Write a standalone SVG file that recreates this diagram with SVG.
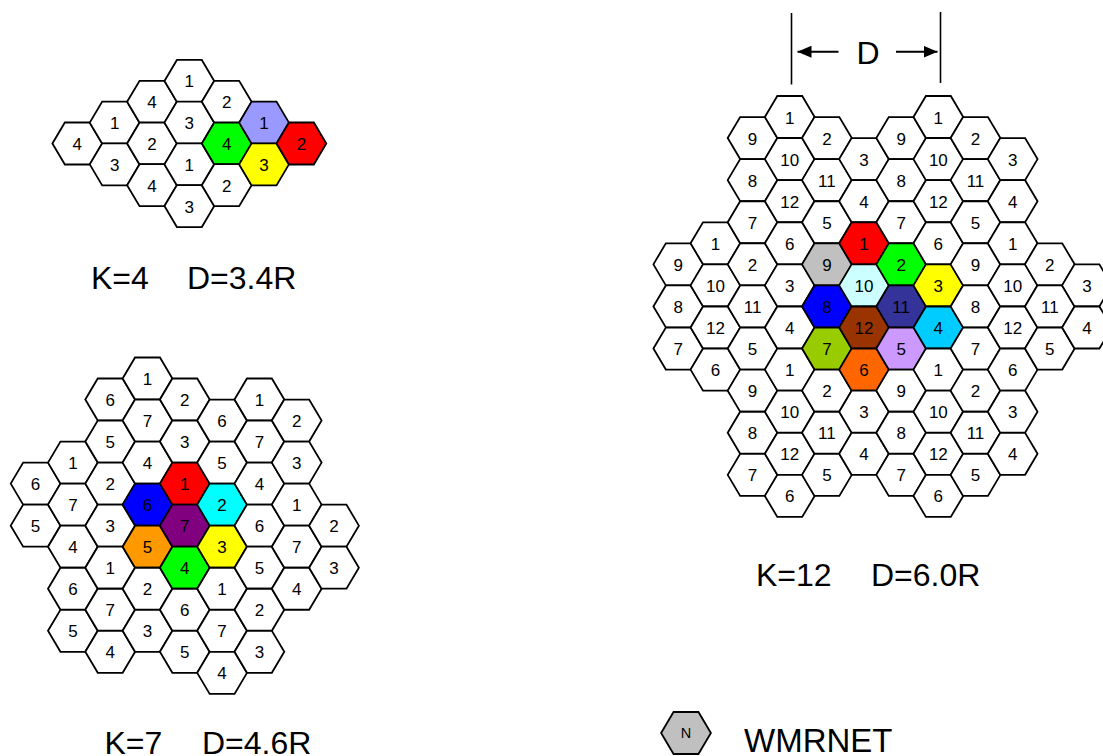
<svg xmlns="http://www.w3.org/2000/svg" xmlns:xlink="http://www.w3.org/1999/xlink" width="1103" height="756" viewBox="0 0 1103 756">
<style>
text{font-family:"Liberation Sans",Arial,sans-serif;fill:#000}
.n text{font-size:17px;text-anchor:middle}
.lbl{font-size:32px}
.r{fill:#FF0000}.g{fill:#00FF00}.y{fill:#FFFF00}.c{fill:#00FFFF}.b{fill:#0000FF}.o{fill:#FF9900}.p{fill:#800080}
.lv{fill:#9999FF}.ds{fill:#00CCFF}.l5{fill:#CC99FF}.o6{fill:#FF6600}.ol{fill:#99CC00}.gr{fill:#C0C0C0}.lc{fill:#CCFFFF}.nv{fill:#333399}.br{fill:#993300}
use{fill:#FFFFFF}
</style>
<defs>
<polygon id="hx" points="-24.9,0 -12.45,-21 12.45,-21 24.9,0 12.45,21 -12.45,21" stroke="#000" stroke-width="1.8" stroke-linejoin="miter"/>
<marker id="ah" viewBox="0 0 14 12" refX="14" refY="6" markerWidth="14" markerHeight="12" markerUnits="userSpaceOnUse" orient="auto"><path d="M0,0 L14,6 L0,12 z" fill="#000"/></marker>
</defs>

<!-- K=4 -->
<g id="k4" class="n">
<g id="k4-0-0" transform="translate(77.3,143.5)"><use href="#hx"/><text y="6.5">4</text></g>
<g id="k4-1-0" transform="translate(114.65,122.65)"><use href="#hx"/><text y="6.5">1</text></g>
<g id="k4-1-1" transform="translate(114.65,164.35)"><use href="#hx"/><text y="6.5">3</text></g>
<g id="k4-2-0" transform="translate(152,101.8)"><use href="#hx"/><text y="6.5">4</text></g>
<g id="k4-2-1" transform="translate(152,143.5)"><use href="#hx"/><text y="6.5">2</text></g>
<g id="k4-2-2" transform="translate(152,185.2)"><use href="#hx"/><text y="6.5">4</text></g>
<g id="k4-3-0" transform="translate(189.35,80.95)"><use href="#hx"/><text y="6.5">1</text></g>
<g id="k4-3-1" transform="translate(189.35,122.65)"><use href="#hx"/><text y="6.5">3</text></g>
<g id="k4-3-2" transform="translate(189.35,164.35)"><use href="#hx"/><text y="6.5">1</text></g>
<g id="k4-3-3" transform="translate(189.35,206.05)"><use href="#hx"/><text y="6.5">3</text></g>
<g id="k4-4-0" transform="translate(226.7,101.8)"><use href="#hx"/><text y="6.5">2</text></g>
<g id="k4-4-1" transform="translate(226.7,143.5)"><use href="#hx" class="g"/><text y="6.5">4</text></g>
<g id="k4-4-2" transform="translate(226.7,185.2)"><use href="#hx"/><text y="6.5">2</text></g>
<g id="k4-5-0" transform="translate(264.05,122.65)"><use href="#hx" class="lv"/><text y="6.5">1</text></g>
<g id="k4-5-1" transform="translate(264.05,164.35)"><use href="#hx" class="y"/><text y="6.5">3</text></g>
<g id="k4-6-0" transform="translate(301.4,143.5)"><use href="#hx" class="r"/><text y="6.5">2</text></g>
</g>
<text class="lbl" id="k4-label" y="289"><tspan x="91">K=4</tspan><tspan x="187">D=3.4R</tspan></text>

<!-- K=7 -->
<g id="k7" class="n">
<g id="k7-0-2" transform="translate(35.6,483.6)"><use href="#hx"/><text y="6.5">6</text></g>
<g id="k7-0-3" transform="translate(35.6,525.65)"><use href="#hx"/><text y="6.5">5</text></g>
<g id="k7-1-2" transform="translate(72.9,462.6)"><use href="#hx"/><text y="6.5">1</text></g>
<g id="k7-1-3" transform="translate(72.9,504.65)"><use href="#hx"/><text y="6.5">7</text></g>
<g id="k7-1-4" transform="translate(72.9,546.7)"><use href="#hx"/><text y="6.5">4</text></g>
<g id="k7-1-5" transform="translate(72.9,588.75)"><use href="#hx"/><text y="6.5">6</text></g>
<g id="k7-1-6" transform="translate(72.9,630.8)"><use href="#hx"/><text y="6.5">5</text></g>
<g id="k7-2-0" transform="translate(110.2,399.5)"><use href="#hx"/><text y="6.5">6</text></g>
<g id="k7-2-1" transform="translate(110.2,441.55)"><use href="#hx"/><text y="6.5">5</text></g>
<g id="k7-2-2" transform="translate(110.2,483.6)"><use href="#hx"/><text y="6.5">2</text></g>
<g id="k7-2-3" transform="translate(110.2,525.65)"><use href="#hx"/><text y="6.5">3</text></g>
<g id="k7-2-4" transform="translate(110.2,567.7)"><use href="#hx"/><text y="6.5">1</text></g>
<g id="k7-2-5" transform="translate(110.2,609.75)"><use href="#hx"/><text y="6.5">7</text></g>
<g id="k7-2-6" transform="translate(110.2,651.8)"><use href="#hx"/><text y="6.5">4</text></g>
<g id="k7-3-0" transform="translate(147.5,378.5)"><use href="#hx"/><text y="6.5">1</text></g>
<g id="k7-3-1" transform="translate(147.5,420.55)"><use href="#hx"/><text y="6.5">7</text></g>
<g id="k7-3-2" transform="translate(147.5,462.6)"><use href="#hx"/><text y="6.5">4</text></g>
<g id="k7-3-3" transform="translate(147.5,504.65)"><use href="#hx" class="b"/><text y="6.5">6</text></g>
<g id="k7-3-4" transform="translate(147.5,546.7)"><use href="#hx" class="o"/><text y="6.5">5</text></g>
<g id="k7-3-5" transform="translate(147.5,588.75)"><use href="#hx"/><text y="6.5">2</text></g>
<g id="k7-3-6" transform="translate(147.5,630.8)"><use href="#hx"/><text y="6.5">3</text></g>
<g id="k7-4-0" transform="translate(184.8,399.5)"><use href="#hx"/><text y="6.5">2</text></g>
<g id="k7-4-1" transform="translate(184.8,441.55)"><use href="#hx"/><text y="6.5">3</text></g>
<g id="k7-4-2" transform="translate(184.8,483.6)"><use href="#hx" class="r"/><text y="6.5">1</text></g>
<g id="k7-4-3" transform="translate(184.8,525.65)"><use href="#hx" class="p"/><text y="6.5">7</text></g>
<g id="k7-4-4" transform="translate(184.8,567.7)"><use href="#hx" class="g"/><text y="6.5">4</text></g>
<g id="k7-4-5" transform="translate(184.8,609.75)"><use href="#hx"/><text y="6.5">6</text></g>
<g id="k7-4-6" transform="translate(184.8,651.8)"><use href="#hx"/><text y="6.5">5</text></g>
<g id="k7-5-1" transform="translate(222.1,420.55)"><use href="#hx"/><text y="6.5">6</text></g>
<g id="k7-5-2" transform="translate(222.1,462.6)"><use href="#hx"/><text y="6.5">5</text></g>
<g id="k7-5-3" transform="translate(222.1,504.65)"><use href="#hx" class="c"/><text y="6.5">2</text></g>
<g id="k7-5-4" transform="translate(222.1,546.7)"><use href="#hx" class="y"/><text y="6.5">3</text></g>
<g id="k7-5-5" transform="translate(222.1,588.75)"><use href="#hx"/><text y="6.5">1</text></g>
<g id="k7-5-6" transform="translate(222.1,630.8)"><use href="#hx"/><text y="6.5">7</text></g>
<g id="k7-5-7" transform="translate(222.1,672.85)"><use href="#hx"/><text y="6.5">4</text></g>
<g id="k7-6-0" transform="translate(259.4,399.5)"><use href="#hx"/><text y="6.5">1</text></g>
<g id="k7-6-1" transform="translate(259.4,441.55)"><use href="#hx"/><text y="6.5">7</text></g>
<g id="k7-6-2" transform="translate(259.4,483.6)"><use href="#hx"/><text y="6.5">4</text></g>
<g id="k7-6-3" transform="translate(259.4,525.65)"><use href="#hx"/><text y="6.5">6</text></g>
<g id="k7-6-4" transform="translate(259.4,567.7)"><use href="#hx"/><text y="6.5">5</text></g>
<g id="k7-6-5" transform="translate(259.4,609.75)"><use href="#hx"/><text y="6.5">2</text></g>
<g id="k7-6-6" transform="translate(259.4,651.8)"><use href="#hx"/><text y="6.5">3</text></g>
<g id="k7-7-1" transform="translate(296.7,420.55)"><use href="#hx"/><text y="6.5">2</text></g>
<g id="k7-7-2" transform="translate(296.7,462.6)"><use href="#hx"/><text y="6.5">3</text></g>
<g id="k7-7-3" transform="translate(296.7,504.65)"><use href="#hx"/><text y="6.5">1</text></g>
<g id="k7-7-4" transform="translate(296.7,546.7)"><use href="#hx"/><text y="6.5">7</text></g>
<g id="k7-7-5" transform="translate(296.7,588.75)"><use href="#hx"/><text y="6.5">4</text></g>
<g id="k7-8-3" transform="translate(334,525.65)"><use href="#hx"/><text y="6.5">2</text></g>
<g id="k7-8-4" transform="translate(334,567.7)"><use href="#hx"/><text y="6.5">3</text></g>
</g>
<text class="lbl" id="k7-label" y="754"><tspan x="104.5">K=7</tspan><tspan x="202">D=4.6R</tspan></text>

<!-- K=12 -->
<g id="k12" class="n">
<g id="k12-0-7" transform="translate(678.3,264.35)"><use href="#hx"/><text y="6.5">9</text></g>
<g id="k12-0-9" transform="translate(678.3,306.45)"><use href="#hx"/><text y="6.5">8</text></g>
<g id="k12-0-11" transform="translate(678.3,348.55)"><use href="#hx"/><text y="6.5">7</text></g>
<g id="k12-1-6" transform="translate(715.45,243.3)"><use href="#hx"/><text y="6.5">1</text></g>
<g id="k12-1-8" transform="translate(715.45,285.4)"><use href="#hx"/><text y="6.5">10</text></g>
<g id="k12-1-10" transform="translate(715.45,327.5)"><use href="#hx"/><text y="6.5">12</text></g>
<g id="k12-1-12" transform="translate(715.45,369.6)"><use href="#hx"/><text y="6.5">6</text></g>
<g id="k12-2-1" transform="translate(752.6,138.05)"><use href="#hx"/><text y="6.5">9</text></g>
<g id="k12-2-3" transform="translate(752.6,180.15)"><use href="#hx"/><text y="6.5">8</text></g>
<g id="k12-2-5" transform="translate(752.6,222.25)"><use href="#hx"/><text y="6.5">7</text></g>
<g id="k12-2-7" transform="translate(752.6,264.35)"><use href="#hx"/><text y="6.5">2</text></g>
<g id="k12-2-9" transform="translate(752.6,306.45)"><use href="#hx"/><text y="6.5">11</text></g>
<g id="k12-2-11" transform="translate(752.6,348.55)"><use href="#hx"/><text y="6.5">5</text></g>
<g id="k12-2-13" transform="translate(752.6,390.65)"><use href="#hx"/><text y="6.5">9</text></g>
<g id="k12-2-15" transform="translate(752.6,432.75)"><use href="#hx"/><text y="6.5">8</text></g>
<g id="k12-2-17" transform="translate(752.6,474.85)"><use href="#hx"/><text y="6.5">7</text></g>
<g id="k12-3-0" transform="translate(789.75,117)"><use href="#hx"/><text y="6.5">1</text></g>
<g id="k12-3-2" transform="translate(789.75,159.1)"><use href="#hx"/><text y="6.5">10</text></g>
<g id="k12-3-4" transform="translate(789.75,201.2)"><use href="#hx"/><text y="6.5">12</text></g>
<g id="k12-3-6" transform="translate(789.75,243.3)"><use href="#hx"/><text y="6.5">6</text></g>
<g id="k12-3-8" transform="translate(789.75,285.4)"><use href="#hx"/><text y="6.5">3</text></g>
<g id="k12-3-10" transform="translate(789.75,327.5)"><use href="#hx"/><text y="6.5">4</text></g>
<g id="k12-3-12" transform="translate(789.75,369.6)"><use href="#hx"/><text y="6.5">1</text></g>
<g id="k12-3-14" transform="translate(789.75,411.7)"><use href="#hx"/><text y="6.5">10</text></g>
<g id="k12-3-16" transform="translate(789.75,453.8)"><use href="#hx"/><text y="6.5">12</text></g>
<g id="k12-3-18" transform="translate(789.75,495.9)"><use href="#hx"/><text y="6.5">6</text></g>
<g id="k12-4-1" transform="translate(826.9,138.05)"><use href="#hx"/><text y="6.5">2</text></g>
<g id="k12-4-3" transform="translate(826.9,180.15)"><use href="#hx"/><text y="6.5">11</text></g>
<g id="k12-4-5" transform="translate(826.9,222.25)"><use href="#hx"/><text y="6.5">5</text></g>
<g id="k12-4-7" transform="translate(826.9,264.35)"><use href="#hx" class="gr"/><text y="6.5">9</text></g>
<g id="k12-4-9" transform="translate(826.9,306.45)"><use href="#hx" class="b"/><text y="6.5">8</text></g>
<g id="k12-4-11" transform="translate(826.9,348.55)"><use href="#hx" class="ol"/><text y="6.5">7</text></g>
<g id="k12-4-13" transform="translate(826.9,390.65)"><use href="#hx"/><text y="6.5">2</text></g>
<g id="k12-4-15" transform="translate(826.9,432.75)"><use href="#hx"/><text y="6.5">11</text></g>
<g id="k12-4-17" transform="translate(826.9,474.85)"><use href="#hx"/><text y="6.5">5</text></g>
<g id="k12-5-2" transform="translate(864.05,159.1)"><use href="#hx"/><text y="6.5">3</text></g>
<g id="k12-5-4" transform="translate(864.05,201.2)"><use href="#hx"/><text y="6.5">4</text></g>
<g id="k12-5-6" transform="translate(864.05,243.3)"><use href="#hx" class="r"/><text y="6.5">1</text></g>
<g id="k12-5-8" transform="translate(864.05,285.4)"><use href="#hx" class="lc"/><text y="6.5">10</text></g>
<g id="k12-5-10" transform="translate(864.05,327.5)"><use href="#hx" class="br"/><text y="6.5">12</text></g>
<g id="k12-5-12" transform="translate(864.05,369.6)"><use href="#hx" class="o6"/><text y="6.5">6</text></g>
<g id="k12-5-14" transform="translate(864.05,411.7)"><use href="#hx"/><text y="6.5">3</text></g>
<g id="k12-5-16" transform="translate(864.05,453.8)"><use href="#hx"/><text y="6.5">4</text></g>
<g id="k12-6-1" transform="translate(901.2,138.05)"><use href="#hx"/><text y="6.5">9</text></g>
<g id="k12-6-3" transform="translate(901.2,180.15)"><use href="#hx"/><text y="6.5">8</text></g>
<g id="k12-6-5" transform="translate(901.2,222.25)"><use href="#hx"/><text y="6.5">7</text></g>
<g id="k12-6-7" transform="translate(901.2,264.35)"><use href="#hx" class="g"/><text y="6.5">2</text></g>
<g id="k12-6-9" transform="translate(901.2,306.45)"><use href="#hx" class="nv"/><text y="6.5">11</text></g>
<g id="k12-6-11" transform="translate(901.2,348.55)"><use href="#hx" class="l5"/><text y="6.5">5</text></g>
<g id="k12-6-13" transform="translate(901.2,390.65)"><use href="#hx"/><text y="6.5">9</text></g>
<g id="k12-6-15" transform="translate(901.2,432.75)"><use href="#hx"/><text y="6.5">8</text></g>
<g id="k12-6-17" transform="translate(901.2,474.85)"><use href="#hx"/><text y="6.5">7</text></g>
<g id="k12-7-0" transform="translate(938.35,117)"><use href="#hx"/><text y="6.5">1</text></g>
<g id="k12-7-2" transform="translate(938.35,159.1)"><use href="#hx"/><text y="6.5">10</text></g>
<g id="k12-7-4" transform="translate(938.35,201.2)"><use href="#hx"/><text y="6.5">12</text></g>
<g id="k12-7-6" transform="translate(938.35,243.3)"><use href="#hx"/><text y="6.5">6</text></g>
<g id="k12-7-8" transform="translate(938.35,285.4)"><use href="#hx" class="y"/><text y="6.5">3</text></g>
<g id="k12-7-10" transform="translate(938.35,327.5)"><use href="#hx" class="ds"/><text y="6.5">4</text></g>
<g id="k12-7-12" transform="translate(938.35,369.6)"><use href="#hx"/><text y="6.5">1</text></g>
<g id="k12-7-14" transform="translate(938.35,411.7)"><use href="#hx"/><text y="6.5">10</text></g>
<g id="k12-7-16" transform="translate(938.35,453.8)"><use href="#hx"/><text y="6.5">12</text></g>
<g id="k12-7-18" transform="translate(938.35,495.9)"><use href="#hx"/><text y="6.5">6</text></g>
<g id="k12-8-1" transform="translate(975.5,138.05)"><use href="#hx"/><text y="6.5">2</text></g>
<g id="k12-8-3" transform="translate(975.5,180.15)"><use href="#hx"/><text y="6.5">11</text></g>
<g id="k12-8-5" transform="translate(975.5,222.25)"><use href="#hx"/><text y="6.5">5</text></g>
<g id="k12-8-7" transform="translate(975.5,264.35)"><use href="#hx"/><text y="6.5">9</text></g>
<g id="k12-8-9" transform="translate(975.5,306.45)"><use href="#hx"/><text y="6.5">8</text></g>
<g id="k12-8-11" transform="translate(975.5,348.55)"><use href="#hx"/><text y="6.5">7</text></g>
<g id="k12-8-13" transform="translate(975.5,390.65)"><use href="#hx"/><text y="6.5">2</text></g>
<g id="k12-8-15" transform="translate(975.5,432.75)"><use href="#hx"/><text y="6.5">11</text></g>
<g id="k12-8-17" transform="translate(975.5,474.85)"><use href="#hx"/><text y="6.5">5</text></g>
<g id="k12-9-2" transform="translate(1012.65,159.1)"><use href="#hx"/><text y="6.5">3</text></g>
<g id="k12-9-4" transform="translate(1012.65,201.2)"><use href="#hx"/><text y="6.5">4</text></g>
<g id="k12-9-6" transform="translate(1012.65,243.3)"><use href="#hx"/><text y="6.5">1</text></g>
<g id="k12-9-8" transform="translate(1012.65,285.4)"><use href="#hx"/><text y="6.5">10</text></g>
<g id="k12-9-10" transform="translate(1012.65,327.5)"><use href="#hx"/><text y="6.5">12</text></g>
<g id="k12-9-12" transform="translate(1012.65,369.6)"><use href="#hx"/><text y="6.5">6</text></g>
<g id="k12-9-14" transform="translate(1012.65,411.7)"><use href="#hx"/><text y="6.5">3</text></g>
<g id="k12-9-16" transform="translate(1012.65,453.8)"><use href="#hx"/><text y="6.5">4</text></g>
<g id="k12-10-7" transform="translate(1049.8,264.35)"><use href="#hx"/><text y="6.5">2</text></g>
<g id="k12-10-9" transform="translate(1049.8,306.45)"><use href="#hx"/><text y="6.5">11</text></g>
<g id="k12-10-11" transform="translate(1049.8,348.55)"><use href="#hx"/><text y="6.5">5</text></g>
<g id="k12-11-8" transform="translate(1086.95,285.4)"><use href="#hx"/><text y="6.5">3</text></g>
<g id="k12-11-10" transform="translate(1086.95,327.5)"><use href="#hx"/><text y="6.5">4</text></g>
</g>
<text class="lbl" id="k12-label" y="586"><tspan x="756">K=12</tspan><tspan x="871">D=6.0R</tspan></text>

<!-- D dimension -->
<g id="connectors" stroke="#000" fill="none">
<line x1="791.5" y1="13" x2="791.5" y2="84.5" stroke-width="1.6"/>
<line x1="940.5" y1="12" x2="940.5" y2="83" stroke-width="1.6"/>
<line x1="838.5" y1="51.7" x2="797.5" y2="51.7" stroke-width="2" marker-end="url(#ah)"/>
<line x1="896" y1="51.7" x2="937.5" y2="51.7" stroke-width="2" marker-end="url(#ah)"/>
</g>
<text class="lbl" id="d-label" x="868" y="64.3" text-anchor="middle">D</text>

<!-- Legend -->
<g id="legend-n" class="n" transform="translate(686,733)"><use href="#hx" class="gr"/><text y="5.3" style="font-size:14.5px">N</text></g>
<text id="legend-label" x="744" y="752" style="font-size:33px">WMRNET</text>
</svg>
